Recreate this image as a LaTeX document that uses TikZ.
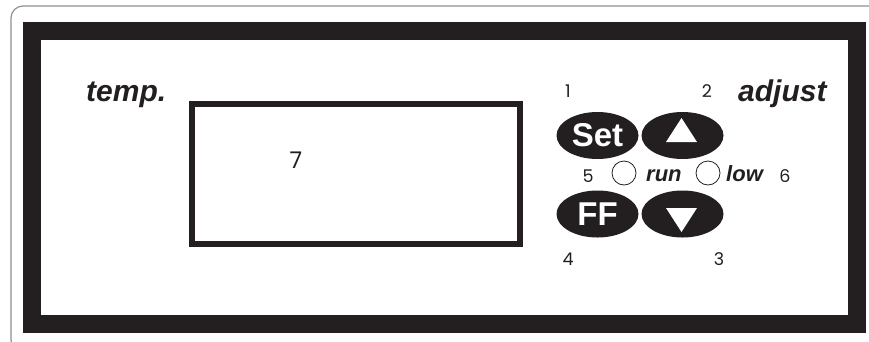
\documentclass[tikz,border=0pt]{standalone}
\usepackage{fontspec}
\setmainfont{Liberation Sans}
\newfontfamily\numfont{Poppins}
\usetikzlibrary{shapes.geometric}
\definecolor{ink}{HTML}{231F20}
\definecolor{rim}{HTML}{8A9096}

\begin{document}
\begin{tikzpicture}[x=1pt, y=-1pt,
  lab/.style={font=\fontsize{30}{30}\selectfont\bfseries\itshape, text=ink, inner sep=0pt},
  small/.style={font=\fontsize{22}{22}\selectfont\bfseries\itshape, text=ink, inner sep=0pt},
  num/.style={font=\numfont\fontsize{17.5}{17.5}\selectfont, text=ink, inner sep=0pt},
  btn/.style={ellipse, fill=ink, text=white, minimum width=82pt, minimum height=47pt,
              inner sep=0pt, font=\fontsize{33}{33}\selectfont\bfseries},
  led/.style={circle, draw=ink, line width=0.8pt, fill=white, minimum size=24pt, inner sep=0pt},
  tri/.style={fill=white}
]
  \useasboundingbox (0,0) rectangle (869,341);
  \clip (0,0) rectangle (869,341);

  % housing
  \draw[rim, line width=1.2pt, rounded corners=12pt] (11,6) rectangle (890,352);
  \draw[ink, line width=18pt] (32,30.5) rectangle (856.5,324);

  % display
  \node[draw=ink, line width=6pt, minimum width=328pt, minimum height=140pt, inner sep=0pt] (lcd) at (356,173.7) {};
  \node[num, font=\numfont\fontsize{23}{23}\selectfont, anchor=base] (n7) at (296,168) {7};

  \node[lab, anchor=base west] (temp) at (86,101) {temp.};
  \node[lab, anchor=base west] (adjust) at (738,101) {adjust};

  % keys
  \node[btn] (set)  at (597.5,135.5) {Set};
  \node[btn] (up)   at (682.5,135.5) {};
  \node[btn] (ff)   at (597.5,214) {FF};
  \node[btn] (down) at (682.5,214) {};
  \fill[tri] ([shift={(-1,-17.5)}]up.center) -- ++(15.5,24) -- ++(-31,0) -- cycle;
  \fill[tri] ([shift={(-1,18)}]down.center) -- ++(15.5,-24) -- ++(-31,0) -- cycle;

  % lamps
  \node[led] (run) at (624,173) {};
  \node[led] (low) at (708,173) {};
  \node[small, anchor=base west] (runlab) at (646,181) {run};
  \node[small, anchor=base west] (lowlab) at (726,181) {low};

  % numbers
  \node[num, anchor=base] (n1) at (568,97) {1};
  \node[num, anchor=base] (n2) at (707,97) {2};
  \node[num, anchor=base] (n5) at (588,182) {5};
  \node[num, anchor=base] (n6) at (785,182) {6};
  \node[num, anchor=base] (n4) at (568,265) {4};
  \node[num, anchor=base] (n3) at (719,265) {3};
\end{tikzpicture}
\end{document}
